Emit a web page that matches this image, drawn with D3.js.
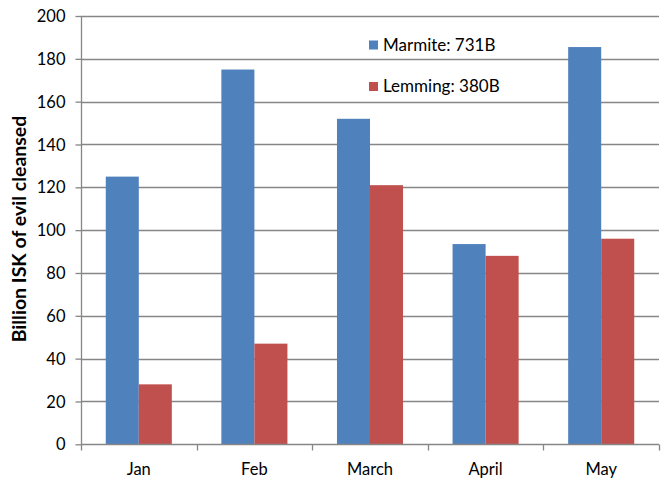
<!DOCTYPE html>
<html><head><meta charset="utf-8">
<script src="https://cdn.jsdelivr.net/npm/d3@7"></script>
<style>body{margin:0;background:#fff}svg{display:block}text{font-family:Lato,"Open Sans",sans-serif;fill:#000}</style>
</head><body><svg id="c" width="670" height="488"></svg>
<script>
const categories = ["Jan","Feb","March","April","May"];
const marmite = [125,175,152,93.5,185.5];
const lemming = [28,47,121,88,96];
const seriesNames = ["Marmite: 731B","Lemming: 380B"];
const seriesColors = ["#4F81BD","#C0504D"];
const yTicks = [0,20,40,60,80,100,120,140,160,180,200];

const svg = d3.select("#c");
const m = {l:81, r:659, t:16, b:444.3};
const x = d3.scaleBand().domain(categories).range([m.l,m.r]).paddingInner(0).paddingOuter(0);
const y = d3.scaleLinear().domain([0,200]).range([m.b,m.t]);
const grid = "#868686";
const FF = "Lato,'Open Sans',sans-serif";

// gridlines
svg.append("g").selectAll("line").data(yTicks.slice(1)).join("line")
  .attr("x1",m.l).attr("x2",m.r).attr("y1",d=>Math.round(y(d))+0.5).attr("y2",d=>Math.round(y(d))+0.5)
  .attr("stroke",grid).attr("stroke-width",1.3);

// bars
const inner = d3.scaleBand().domain([0,1]).range([0,x.bandwidth()]).paddingOuter(0.75).paddingInner(0);
const data = categories.map((c,i)=>({c, v:[marmite[i],lemming[i]]}));
const g = svg.append("g");
data.forEach(d=>{
  d.v.forEach((v,k)=>{
    g.append("rect").attr("x",x(d.c)+inner(k)).attr("width",inner.bandwidth())
      .attr("y",y(v)).attr("height",y(0)-y(v)).attr("fill",seriesColors[k]);
  });
});

// y axis
const ya = svg.append("g").attr("transform",`translate(${m.l+0.5},0)`)
  .call(d3.axisLeft(y).tickValues(yTicks).tickSize(6).tickPadding(10).tickFormat(d3.format("d")));
ya.select(".domain").attr("stroke",grid).attr("stroke-width",1.3).attr("d",`M0,${m.t}V${m.b}`);
ya.selectAll(".tick line").attr("stroke",grid).attr("stroke-width",1.3);
ya.selectAll(".tick text").attr("font-size",16.5).attr("font-family",FF).attr("fill","#000").attr("dy","0.34em");

// x axis
const xa = svg.append("g").attr("transform",`translate(0,${Math.round(m.b)+0.5})`)
  .call(d3.axisBottom(x).tickSize(0).tickPadding(19));
xa.select(".domain").attr("stroke",grid).attr("stroke-width",1.3).attr("d",`M${m.l},0H${m.r}`);
xa.selectAll(".tick text").attr("font-size",16.5).attr("font-family",FF).attr("fill","#000");
const xt = categories.map(c=>x(c)).concat([m.r]);
xa.append("g").selectAll("line").data(xt).join("line")
  .attr("x1",d=>Math.round(d)+0.5).attr("x2",d=>Math.round(d)+0.5).attr("y1",0).attr("y2",6)
  .attr("stroke",grid).attr("stroke-width",1.3);

// y title
svg.append("text").attr("transform","translate(26,229) rotate(-90)").attr("text-anchor","middle")
  .attr("font-size",19.5).attr("font-weight","bold").text("Billion ISK of evil cleansed");

// legend
const lg = svg.append("g");
seriesNames.forEach((n,i)=>{
  const yy = 44.5 + i*41.5;
  lg.append("rect").attr("x",369).attr("y",yy-4).attr("width",9).attr("height",9).attr("fill",seriesColors[i]);
  lg.append("text").attr("x",383).attr("y",yy+6).attr("font-size",17).text(n);
});
</script></body></html>
